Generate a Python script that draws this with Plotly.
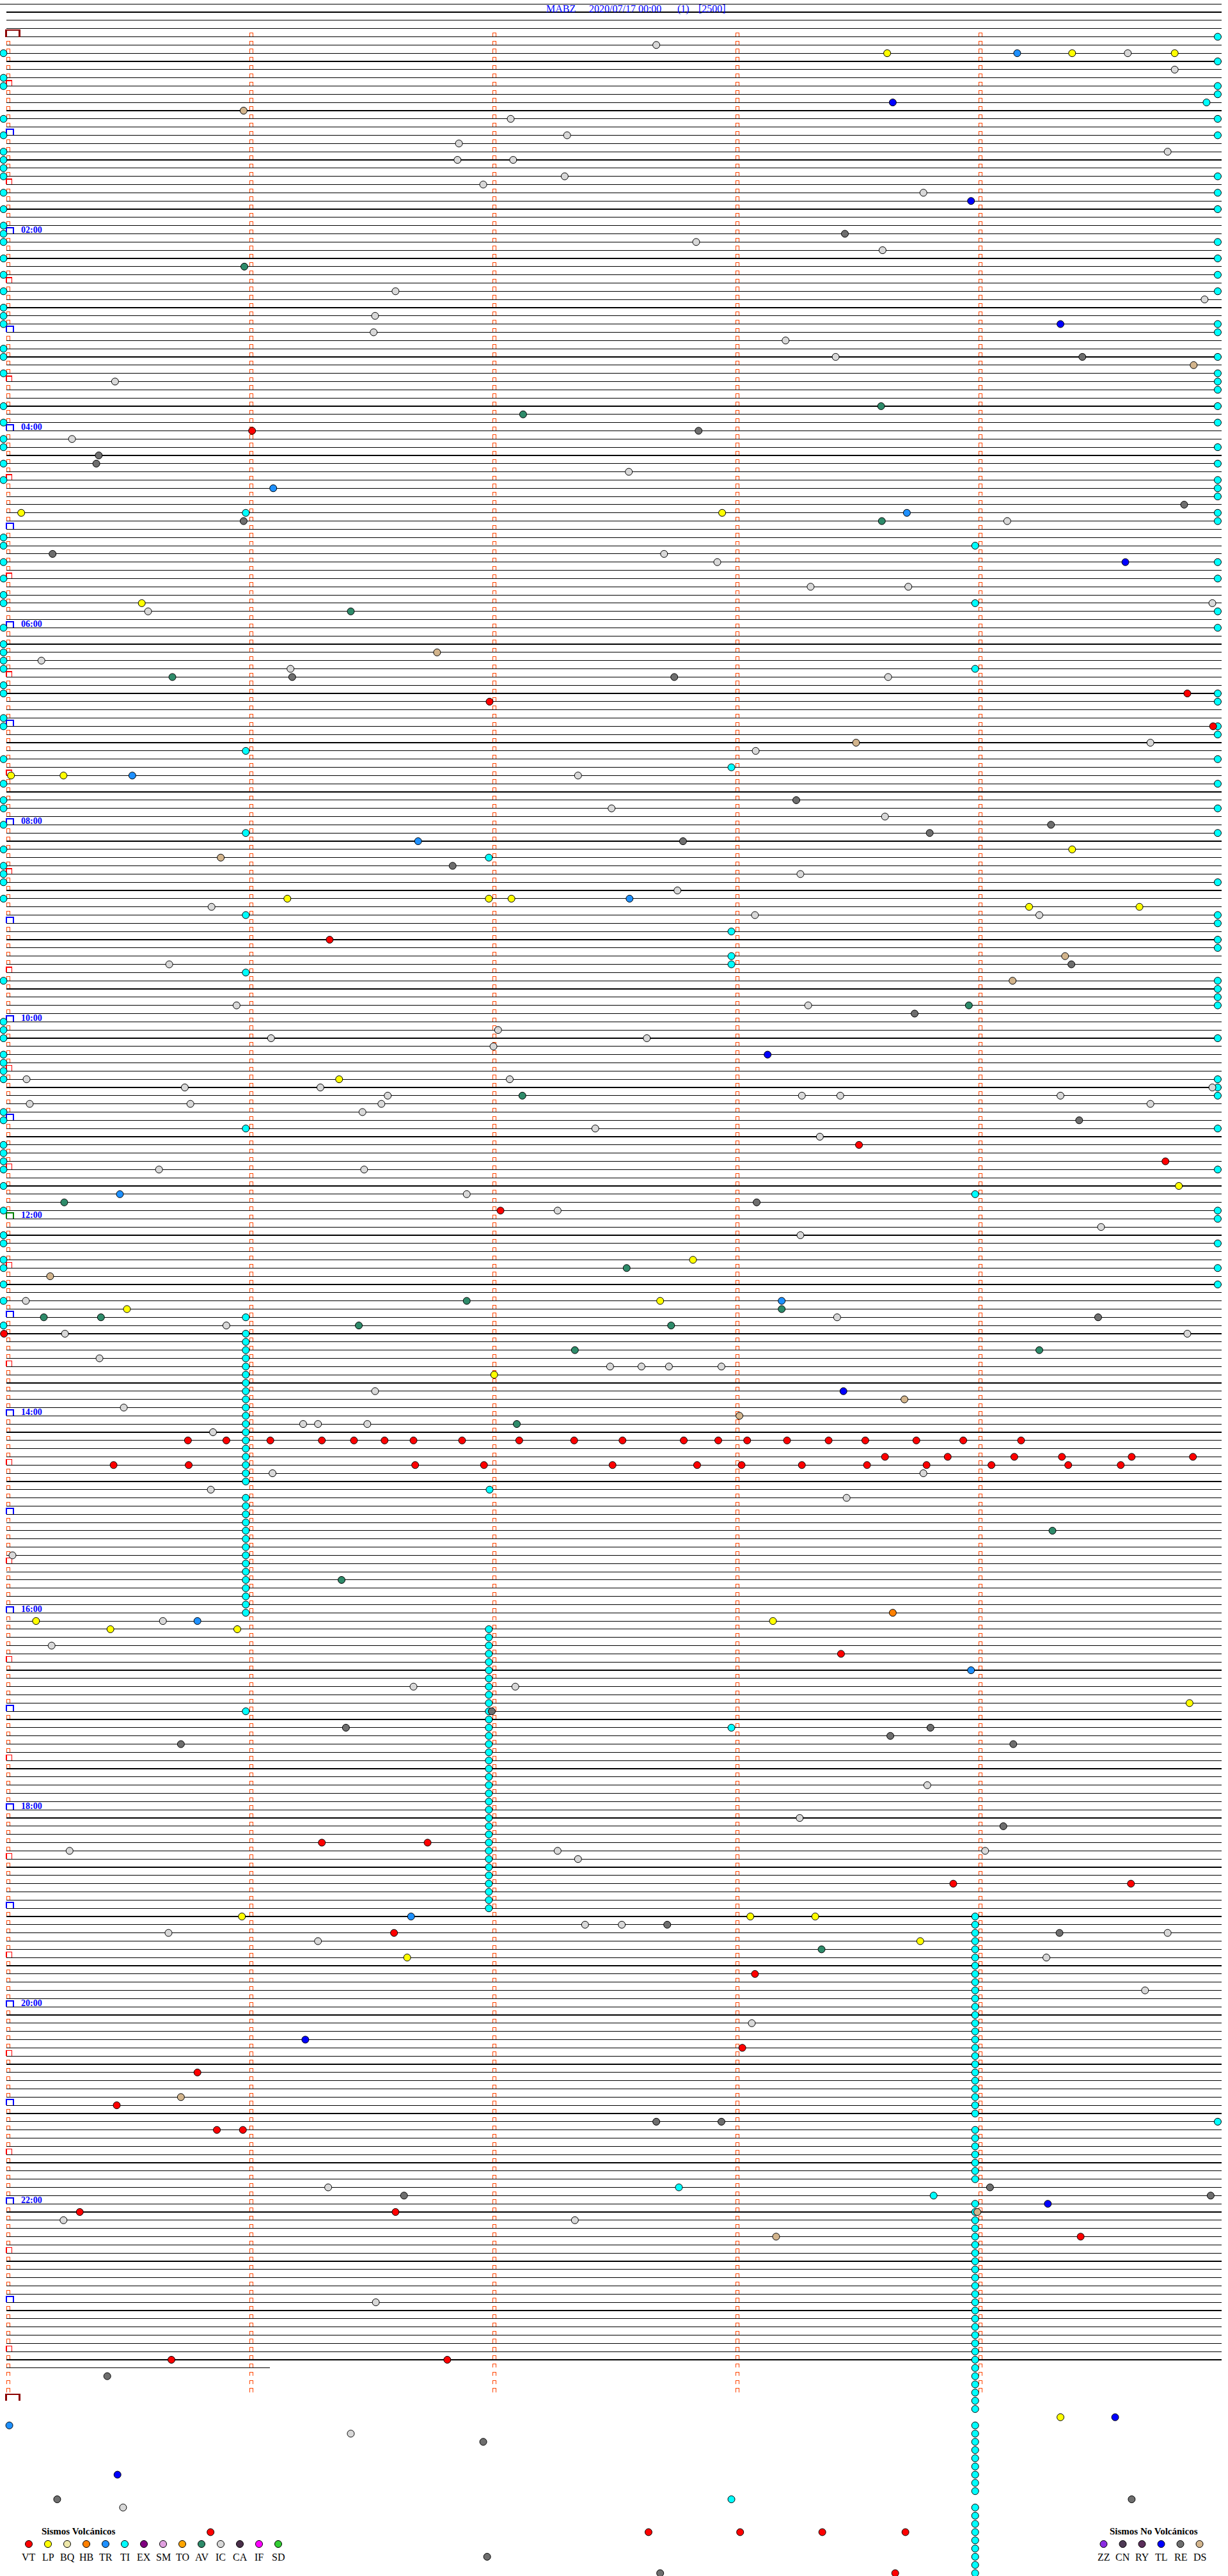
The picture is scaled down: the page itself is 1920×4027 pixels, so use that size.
import plotly.graph_objects as go

# ---------------- header text ----------------
STATION = "MABZ"
START_LABEL = "2020/07/17 00:00"
CHANNEL = "(1)"
GAIN = "[2500]"

ROW_MINUTES = 5          # each helicorder line spans 5 minutes
LEAD_ROWS = 4            # empty lines drawn above 00:00
TICK_ROWS = 288          # lines carrying minute ticks (00:00 .. 23:55)
DATA_END = "23:41:05"    # last sample drawn (partial last line)
MINUTE_TICKS = [0, 1, 2, 3, 4]
HOUR_LABELS = ["02:00", "04:00", "06:00", "08:00", "10:00", "12:00",
               "14:00", "16:00", "18:00", "20:00", "22:00"]

VOLC_CODES = ["VT", "LP", "BQ", "HB", "TR", "TI", "EX", "SM", "TO", "AV", "IC", "CA", "IF", "SD"]
VOLC_COLORS = ["#FF0000", "#FFFF00", "#EEE8AA", "#FF8000", "#1E90FF", "#00FFFF", "#800080",
               "#E0A0E0", "#FFA500", "#2E8B6A", "#D8D8D8", "#4A2F4A", "#FF00FF", "#32CD32"]
NONVOLC_CODES = ["ZZ", "CN", "RY", "TL", "RE", "DS"]
NONVOLC_COLORS = ["#8A2BE2", "#4E3A55", "#5A2E5A", "#0000FF", "#6E6E6E", "#D2B48C"]

# ---------------- events: (line start HH:MM, offset in minutes within the line) ----------------
VT = [("04:00", 1.011), ("06:40", 4.859), ("06:45", 1.988), ("07:00", 4.965), ("09:10", 1.330),
      ("11:15", 3.508), ("11:25", 4.769), ("11:55", 2.033), ("13:10", -0.010),
      ("14:15", 0.747), ("14:15", 0.905), ("14:15", 1.086), ("14:15", 1.298), ("14:15", 1.430),
      ("14:15", 1.556), ("14:15", 1.675), ("14:15", 1.875), ("14:15", 2.110), ("14:15", 2.336),
      ("14:15", 2.535), ("14:15", 2.787), ("14:15", 2.929), ("14:15", 3.048), ("14:15", 3.212),
      ("14:15", 3.383), ("14:15", 3.534), ("14:15", 3.744), ("14:15", 3.937), ("14:15", 4.175),
      ("14:25", 3.615), ("14:25", 3.873), ("14:25", 4.147), ("14:25", 4.343), ("14:25", 4.630),
      ("14:25", 4.882),
      ("14:30", 0.441), ("14:30", 0.750), ("14:30", 1.682), ("14:30", 1.965), ("14:30", 2.494),
      ("14:30", 2.842), ("14:30", 3.025), ("14:30", 3.273), ("14:30", 3.541), ("14:30", 3.786),
      ("14:30", 4.053), ("14:30", 4.369), ("14:30", 4.585),
      ("16:25", 3.434), ("18:20", 1.298), ("18:20", 1.733), ("18:45", 3.896), ("18:45", 4.627),
      ("19:15", 1.595), ("19:40", 3.080), ("20:25", 3.028), ("20:40", 0.786), ("21:00", 0.454),
      ("21:15", 0.866), ("21:15", 0.973), ("22:05", 0.302), ("22:05", 1.601), ("22:20", 4.420),
      ("23:35", 0.679), ("23:35", 1.814),
      ("25:20", 0.840), ("25:20", 2.642), ("25:20", 3.019), ("25:20", 3.357), ("25:20", 3.699),
      ("25:45", 3.657)]

LP = [("00:10", 3.624), ("00:10", 4.385), ("00:10", 4.807), ("04:50", 0.061), ("04:50", 2.945),
      ("05:45", 0.557), ("07:30", 0.019), ("07:30", 0.235), ("08:15", 4.385), ("08:45", 1.156),
      ("08:45", 1.985), ("08:45", 2.078), ("08:50", 4.208), ("08:50", 4.662), ("10:35", 1.369),
      ("11:40", 4.824), ("12:25", 2.825), ("12:50", 2.690), ("12:55", 0.496), ("13:35", 2.007),
      ("16:05", 0.122), ("16:05", 3.154), ("16:10", 0.428), ("16:10", 0.950), ("16:55", 4.868),
      ("19:05", 0.969), ("19:05", 3.061), ("19:05", 3.328), ("19:20", 3.760), ("19:30", 1.649),
      ("24:10", 4.337)]

HB = [("16:00", 3.647)]

TR = [("00:10", 4.159), ("04:35", 1.098), ("04:50", 3.705), ("07:30", 0.518), ("08:10", 1.694),
      ("08:45", 2.564), ("11:45", 0.467), ("12:50", 3.190), ("16:05", 0.786), ("16:35", 3.969),
      ("19:05", 1.665), ("24:15", 0.012)]

AV = [("02:20", 0.979), ("03:45", 3.599), ("03:50", 2.126), ("04:55", 3.602), ("05:50", 1.417),
      ("06:30", 0.683), ("09:50", 3.960), ("10:45", 2.123), ("11:50", 0.238), ("12:30", 2.552),
      ("12:50", 1.894), ("12:55", 3.190), ("13:00", 0.154), ("13:00", 0.389), ("13:05", 1.450),
      ("13:05", 2.735), ("13:20", 2.339), ("13:20", 4.250), ("14:05", 2.100), ("15:10", 4.304),
      ("15:40", 1.379), ("19:25", 3.354)]

IC = [("00:05", 2.674), ("00:10", 4.614), ("00:20", 4.807), ("00:50", 2.075), ("01:00", 2.307),
      ("01:05", 1.862), ("01:10", 4.778), ("01:15", 1.856), ("01:15", 2.085), ("01:25", 2.297),
      ("01:30", 1.962), ("01:35", 3.773), ("02:05", 2.838), ("02:10", 3.605), ("02:35", 1.601),
      ("02:40", 4.930), ("02:50", 1.517), ("03:00", 1.511), ("03:05", 3.206), ("03:15", 3.412),
      ("03:30", 0.447), ("04:05", 0.270), ("04:25", 2.561), ("04:55", 4.118), ("05:15", 2.706),
      ("05:20", 2.925), ("05:35", 3.309), ("05:35", 3.711), ("05:45", 4.962), ("05:50", 0.583),
      ("06:20", 0.144), ("06:25", 1.169), ("06:30", 3.628), ("07:10", 4.707), ("07:15", 3.083),
      ("07:30", 2.352), ("07:50", 2.490), ("07:55", 3.615), ("08:30", 3.267), ("08:40", 2.761),
      ("08:50", 0.844), ("08:55", 3.080), ("08:55", 4.250), ("09:25", 0.670), ("09:50", 0.947),
      ("09:50", 3.299), ("10:05", 2.023), ("10:10", 1.089), ("10:10", 2.635), ("10:15", 2.004),
      ("10:35", 0.083), ("10:35", 2.071), ("10:40", 0.734), ("10:40", 1.292), ("10:40", 4.962),
      ("10:45", 1.569), ("10:45", 3.273), ("10:45", 3.431), ("10:45", 4.337), ("10:50", 0.096),
      ("10:50", 0.757), ("10:50", 1.543), ("10:50", 4.707), ("10:55", 1.465), ("11:05", 2.423),
      ("11:10", 3.347), ("11:30", 0.628), ("11:30", 1.472), ("11:45", 1.894), ("11:55", 2.268),
      ("12:05", 4.504), ("12:10", 3.267), ("12:50", 0.080), ("13:00", 3.418), ("13:05", 0.905),
      ("13:10", 0.241), ("13:10", 4.859), ("13:25", 0.383), ("13:30", 2.484), ("13:30", 2.613),
      ("13:30", 2.726), ("13:30", 2.942), ("13:45", 1.517), ("13:55", 0.483), ("14:05", 1.221),
      ("14:05", 1.282), ("14:05", 1.485), ("14:10", 0.850), ("14:35", 1.095), ("14:35", 3.773),
      ("14:45", 0.841), ("14:50", 3.457), ("15:25", 0.025), ("16:05", 0.644), ("16:20", 0.186),
      ("16:45", 1.675), ("16:45", 2.094), ("17:45", 3.789), ("18:05", 3.264), ("18:25", 0.260),
      ("18:25", 2.268), ("18:25", 4.027), ("18:30", 2.352), ("19:10", 2.381), ("19:10", 2.532),
      ("19:15", 0.667), ("19:15", 4.778), ("19:20", 1.282), ("19:30", 4.279), ("19:50", 4.685),
      ("20:10", 3.067), ("21:50", 1.324), ("22:10", 0.235), ("22:10", 2.339), ("23:00", 1.520),
      ("24:20", 1.417), ("25:05", 0.480)]

TL = [("00:40", 3.647), ("01:40", 3.969), ("02:55", 4.337), ("05:20", 4.604), ("10:20", 3.132),
      ("13:45", 3.444), ("20:20", 1.230), ("22:00", 4.285), ("24:10", 4.562), ("24:45", 0.457)]

RE = [("02:00", 3.450), ("03:15", 4.427), ("04:00", 2.848), ("04:15", 0.380), ("04:20", 0.370),
      ("04:45", 4.846), ("04:55", 0.976), ("05:15", 0.190), ("06:30", 1.176), ("06:30", 2.748),
      ("07:45", 3.250), ("08:00", 4.298), ("08:05", 3.799), ("08:10", 2.784), ("08:25", 1.836),
      ("09:25", 4.382), ("09:55", 3.737), ("11:00", 4.414), ("11:50", 3.087), ("13:00", 4.492),
      ("17:00", 1.997), ("17:10", 1.397), ("17:10", 3.802), ("17:15", 3.637), ("17:20", 0.718),
      ("17:20", 4.143), ("18:10", 4.102), ("19:10", 2.719), ("19:15", 4.333), ("21:10", 2.674),
      ("21:10", 2.942), ("21:50", 4.047), ("21:55", 1.636), ("21:55", 4.955), ("23:45", 0.415),
      ("24:25", 1.962), ("25:00", 0.209), ("25:00", 4.630), ("25:35", 1.978), ("25:45", 2.690)]

DS = [("00:45", 0.976), ("03:20", 4.885), ("06:15", 1.772), ("07:10", 3.496), ("08:20", 0.882),
      ("09:20", 4.356), ("09:35", 4.140), ("12:35", 0.180), ("13:50", 3.695), ("14:00", 3.016),
      ("20:55", 0.718), ("22:05", 3.995), ("22:20", 3.167)]

# TI events sitting at the start (left edge) / end (right edge) of a line
TI_LEFT = ("00:10 00:25 00:30 00:50 01:00 01:10 01:15 01:20 01:25 01:35 01:45 01:55 02:00 02:05 "
           "02:15 02:25 02:35 02:45 02:50 02:55 03:10 03:15 03:25 03:45 03:55 04:05 04:10 04:20 "
           "04:30 05:05 05:10 05:20 05:30 05:40 05:45 06:00 06:10 06:15 06:20 06:25 06:35 06:40 "
           "06:55 07:00 07:20 07:35 07:45 07:50 08:00 08:15 08:25 08:30 08:35 08:45 09:35 10:00 "
           "10:05 10:10 10:20 10:25 10:30 10:35 10:55 11:00 11:15 11:20 11:25 11:30 11:40 11:55 "
           "12:10 12:15 12:25 12:30 12:40 12:50 13:05").split()
TI_RIGHT = ("00:00 00:15 00:30 00:35 00:50 01:00 01:25 01:35 01:45 02:05 02:15 02:25 02:35 02:55 "
            "03:00 03:15 03:25 03:30 03:35 03:45 03:55 04:10 04:20 04:30 04:35 04:40 04:50 04:55 "
            "05:20 05:30 05:50 06:00 06:40 06:45 07:00 07:05 07:20 07:35 07:50 08:05 08:35 08:55 "
            "09:00 09:10 09:15 09:35 09:40 09:45 09:50 10:10 10:35 10:40 10:45 11:05 11:30 11:55 "
            "12:00 12:15 12:30 12:40 21:10").split()
TI_LEFT_OFFSET = -0.012
TI_RIGHT_OFFSET = 4.984
TI_OTHER = [("00:40", 4.938), ("04:50", 0.985), ("05:10", 3.986), ("05:45", 3.986), ("06:25", 3.986),
            ("07:15", 0.985), ("07:25", 2.983), ("08:05", 0.985), ("08:20", 1.985), ("08:55", 0.985),
            ("09:05", 2.983), ("09:20", 2.983), ("09:25", 2.983), ("09:30", 0.985), ("11:05", 0.985),
            ("11:45", 3.986), ("13:00", 0.985), ("14:45", 1.988), ("17:00", 0.985), ("17:10", 2.983),
            ("21:50", 2.767), ("21:55", 3.815), ("25:00", 2.983)]
# long runs of TI events at the same offset
TI_RUN_A = ("13:10 13:15 13:20 13:25 13:30 13:35 13:40 13:45 13:50 13:55 14:00 14:05 14:10 14:15 "
            "14:20 14:25 14:30 14:35 14:40 14:50 14:55 15:00 15:05 15:10 15:15 15:20 15:25 15:30 "
            "15:35 15:40 15:45 15:50 15:55 16:00").split()
TI_RUN_A_OFFSET = 0.985
TI_RUN_B = ("16:10 16:15 16:20 16:25 16:30 16:35 16:40 16:45 16:50 16:55 17:00 17:05 17:10 17:15 "
            "17:20 17:25 17:30 17:35 17:40 17:45 17:50 17:55 18:00 18:05 18:10 18:15 18:20 18:25 "
            "18:30 18:35 18:40 18:45 18:50 18:55 19:00").split()
TI_RUN_B_OFFSET = 1.985
TI_RUN_C = ("19:05 19:10 19:15 19:20 19:25 19:30 19:35 19:40 19:45 19:50 19:55 20:00 20:05 20:10 "
            "20:15 20:20 20:25 20:30 20:35 20:40 20:45 20:50 20:55 21:00 21:05 21:15 21:20 21:25 "
            "21:30 21:35 21:40 21:45 22:00 22:05 22:10 22:15 22:20 22:25 22:30 22:35 22:40 22:45 "
            "22:50 22:55 23:00 23:05 23:10 23:15 23:20 23:25 23:30 23:35 23:40 23:45 23:50 23:55 "
            "24:00 24:05 24:15 24:20 24:25 24:30 24:35 24:40 24:45 24:50 24:55 25:05 25:10 25:15 "
            "25:20 25:25 25:30 25:35 25:40 25:45").split()
TI_RUN_C_OFFSET = 3.986

# ---------------- geometry of the page ----------------
W, H = 1920, 4027
X0_PX, PX_PER_MIN = 10.0, 380.0
Y0_PX, PX_PER_ROW = 57.5, 12.832
dx = 1.0 / PX_PER_MIN
dy = 1.0 / PX_PER_ROW
XR = [(0 - X0_PX) * dx, (W - X0_PX) * dx]
YR = [(H - Y0_PX) * dy, (0 - Y0_PX) * dy]
FONT = "Liberation Serif, Times New Roman, serif"


def row_of(hhmm):
    h, m = hhmm.split(":")[:2]
    return (int(h) * 60 + int(m)) / ROW_MINUTES


def split(events):
    return [e[1] for e in events], [row_of(e[0]) for e in events]


fig = go.Figure()

# ---- helicorder lines ----
h, m, s = [int(v) for v in DATA_END.split(":")]
end_total = h * 60 + m + s / 60.0
end_row = int(end_total // ROW_MINUTES)
end_off = end_total - end_row * ROW_MINUTES
lx, ly = [], []
for r in range(-LEAD_ROWS, end_row):
    xs = XR[0] if r == -LEAD_ROWS else 0
    lx += [xs, ROW_MINUTES, None]
    ly += [r, r, None]
lx += [0, end_off, None]
ly += [end_row, end_row, None]
fig.add_trace(go.Scatter(x=lx, y=ly, mode="lines", line=dict(color="black", width=1.15),
                         hoverinfo="skip", showlegend=False))

# ---- minute ticks ----
tx, ty = [], []
for r in range(TICK_ROWS):
    for k in MINUTE_TICKS:
        if k == 0 and r % 6 == 0:
            continue
        x0, x1 = k, k + 5.5 * dx
        yb, yt = r - 0.6 * dy, r - 6.3 * dy
        tx += [x0, x0, x1, x1, None]
        ty += [yb, yt, yt, yb, None]
fig.add_trace(go.Scatter(x=tx, y=ty, mode="lines", line=dict(color="#FF4500", width=1),
                         hoverinfo="skip", showlegend=False))


# ---- hour / half hour / day brackets ----
def bracket(rows, wpx, hpx, color, lw, x0px=0.0):
    bx, by = [], []
    for r in rows:
        x0, x1 = x0px * dx, (x0px + wpx) * dx
        yb, yt = r, r - hpx * dy
        bx += [x0, x0, x1, x1, None]
        by += [yb, yt, yt, yb, None]
    fig.add_trace(go.Scatter(x=bx, y=by, mode="lines", line=dict(color=color, width=lw),
                             hoverinfo="skip", showlegend=False))


half_rows = [r for r in range(TICK_ROWS) if r % 12 == 6]
hour_rows = [r for r in range(12, TICK_ROWS, 12) if r != 144]
bracket(half_rows, 8.8, 8.5, "#FF0000", 1.3)
bracket(hour_rows, 10.5, 9.3, "#0000FF", 2)
bracket([144], 10.5, 9.3, "#008000", 2)
bracket([0, TICK_ROWS], 21.0, 10.5, "#8B0000", 2.2, x0px=-0.5)

# ---- events ----
def add_events(xs, ys, color):
    fig.add_trace(go.Scatter(x=xs, y=ys, mode="markers", hoverinfo="skip", showlegend=False,
                             marker=dict(size=11, color=color, line=dict(color="black", width=1))))


ti_x, ti_y = [], []
for t in TI_LEFT:
    ti_x.append(TI_LEFT_OFFSET); ti_y.append(row_of(t))
for t in TI_RIGHT:
    ti_x.append(TI_RIGHT_OFFSET); ti_y.append(row_of(t))
for t in TI_RUN_A:
    ti_x.append(TI_RUN_A_OFFSET); ti_y.append(row_of(t))
for t in TI_RUN_B:
    ti_x.append(TI_RUN_B_OFFSET); ti_y.append(row_of(t))
for t in TI_RUN_C:
    ti_x.append(TI_RUN_C_OFFSET); ti_y.append(row_of(t))
ox, oy = split(TI_OTHER)
add_events(ti_x + ox, ti_y + oy, VOLC_COLORS[VOLC_CODES.index("TI")])

for code, evs in [("IC", IC), ("AV", AV), ("LP", LP), ("TR", TR), ("HB", HB), ("VT", VT)]:
    xs, ys = split(evs)
    add_events(xs, ys, VOLC_COLORS[VOLC_CODES.index(code)])
for code, evs in [("RE", RE), ("DS", DS), ("TL", TL)]:
    xs, ys = split(evs)
    add_events(xs, ys, NONVOLC_COLORS[NONVOLC_CODES.index(code)])

annotations = []
# ---- hour labels ----
for lab in HOUR_LABELS:
    annotations.append(dict(x=21 * dx, y=row_of(lab) - 5.8 * dy, xref="x", yref="y", text=lab,
                            showarrow=False, xanchor="left", yanchor="middle",
                            font=dict(family=FONT, size=14, color="#0000FF", weight="bold")))

# ---- title ----
for txt, xpx in [(STATION, 852), (START_LABEL, 919), (CHANNEL, 1057), (GAIN, 1090)]:
    annotations.append(dict(x=xpx / W, y=1 - 13.5 / H, xref="paper", yref="paper", text=txt,
                            showarrow=False, xanchor="left", yanchor="middle",
                            font=dict(family=FONT, size=16, color="#0000FF")))

# ---- custom legend (pixel overlay axes) ----
leg_y_dot, leg_y_lab, leg_y_head = 3977, 3997, 3957
vx = [45 + 30 * i for i in range(len(VOLC_CODES))]
nx = [1725.5 + 30 * i for i in range(len(NONVOLC_CODES))]
fig.add_trace(go.Scatter(x=vx + nx, y=[leg_y_dot] * (len(vx) + len(nx)), xaxis="x2", yaxis="y2",
                         mode="markers", hoverinfo="skip", showlegend=False,
                         marker=dict(size=11, color=VOLC_COLORS + NONVOLC_COLORS,
                                     line=dict(color="black", width=1))))
for code, xpx in zip(VOLC_CODES + NONVOLC_CODES, vx + nx):
    annotations.append(dict(x=xpx, y=leg_y_lab, xref="x2", yref="y2", text=code, showarrow=False,
                            xanchor="center", yanchor="middle",
                            font=dict(family=FONT, size=16, color="black")))
annotations.append(dict(x=63, y=leg_y_head, xref="x2", yref="y2", text="Sismos Volcánicos",
                        showarrow=False, xanchor="left", yanchor="middle",
                        font=dict(family=FONT, size=15, color="black", weight="bold")))
annotations.append(dict(x=1733, y=leg_y_head, xref="x2", yref="y2", text="Sismos No Volcánicos",
                        showarrow=False, xanchor="left", yanchor="middle",
                        font=dict(family=FONT, size=15, color="black", weight="bold")))

fig.update_layout(
    width=W, height=H, margin=dict(l=0, r=0, t=0, b=0, pad=0),
    paper_bgcolor="white", plot_bgcolor="white",
    xaxis=dict(range=XR, visible=False, fixedrange=True),
    yaxis=dict(range=YR, visible=False, fixedrange=True),
    xaxis2=dict(range=[0, W], visible=False, overlaying="x", fixedrange=True),
    yaxis2=dict(range=[H, 0], visible=False, overlaying="y", fixedrange=True),
    annotations=annotations,
)

post = ("document.body.style.margin='0';"
        "document.querySelectorAll('path.js-line').forEach(function(p){"
        "p.style.shapeRendering='crispEdges';});")
fig.write_html("out.html", post_script=post, config={"displayModeBar": False, "staticPlot": True})
